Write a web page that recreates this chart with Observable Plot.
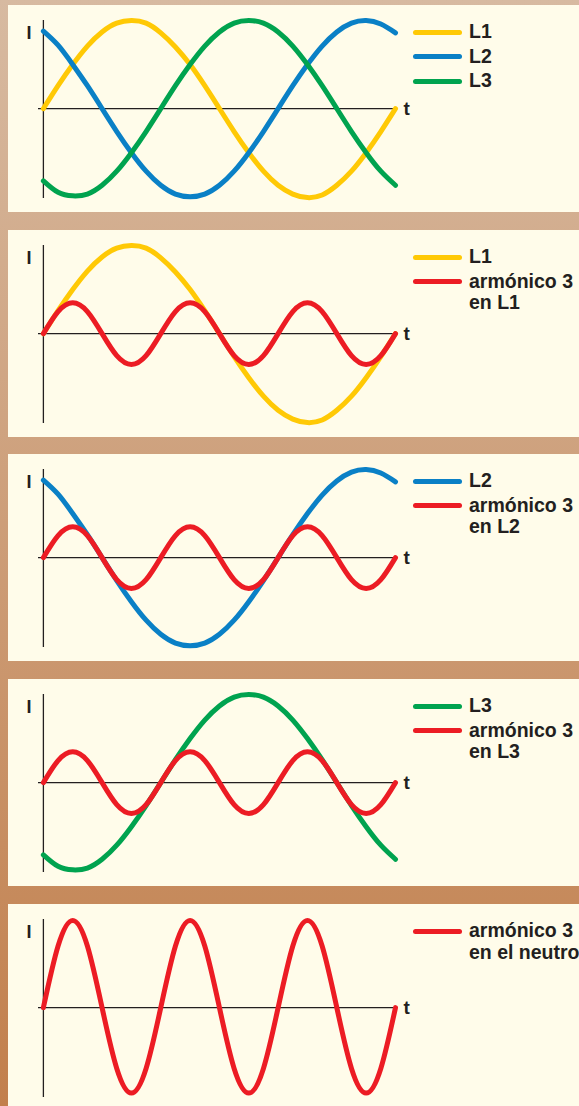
<!DOCTYPE html>
<html><head><meta charset="utf-8">
<script src="https://cdn.jsdelivr.net/npm/d3@7"></script>
<script src="https://cdn.jsdelivr.net/npm/@observablehq/plot@0.6"></script>
<style>
html,body{margin:0;padding:0;}
body{width:579px;height:1106px;overflow:hidden;position:relative;background:linear-gradient(#D7BAA1,#C27F4C);font-family:"Liberation Sans",Arial,sans-serif;}
.panel{position:absolute;left:8px;width:571px;height:207px;background:#FFFCEA;overflow:hidden;}
.panel svg{position:absolute;left:0;top:0;}
.leg{position:absolute;left:405px;display:flex;align-items:flex-start;font-weight:bold;font-size:19.5px;line-height:21.5px;color:#231F20;white-space:pre;}
.sw{width:49px;height:5px;border-radius:2.5px;margin-top:8.25px;margin-right:7px;flex:none;}
</style></head><body>
<script>
// time axis (degrees of the fundamental)
const T = [0,15,30,45,60,75,90,105,120,135,150,165,180,195,210,225,240,255,270,285,300,315,330,345,360];
// phase currents
const L1 = [0,0.26,0.5,0.71,0.87,0.97,1.0,0.97,0.86,0.7,0.5,0.26,0,-0.26,-0.5,-0.71,-0.87,-0.97,-1.01,-0.98,-0.87,-0.71,-0.5,-0.26,0];
const L2 = [0.88,0.72,0.5,0.26,0,-0.26,-0.5,-0.71,-0.87,-0.97,-1.0,-0.97,-0.87,-0.71,-0.5,-0.26,0,0.26,0.5,0.71,0.87,0.97,1.0,0.96,0.86];
const L3 = [-0.82,-0.95,-0.99,-0.97,-0.87,-0.71,-0.5,-0.26,0,0.26,0.5,0.71,0.87,0.97,1.0,0.97,0.87,0.71,0.5,0.26,0,-0.26,-0.5,-0.71,-0.87];
// 3rd harmonic in each phase
const H3 = [0,0.25,0.35,0.25,0,-0.25,-0.35,-0.25,0,0.25,0.35,0.25,0,-0.25,-0.35,-0.25,0,0.25,0.35,0.25,0,-0.25,-0.35,-0.25,0];
// 3rd harmonic in the neutral
const HN = [0,0.7,0.99,0.7,0,-0.69,-0.97,-0.69,0,0.7,0.99,0.7,0,-0.69,-0.97,-0.69,0,0.7,0.99,0.7,0,-0.69,-0.97,-0.69,0];

const COLORS = {L1:"#FFC905", L2:"#0A80C6", L3:"#00A34F", H:"#EC1C24"};
const INK = "#231F20";

const panelTops = [5, 230, 454, 679, 904];
const panelSeries = [
  [["L1",L1],["L2",L2],["L3",L3]],
  [["L1",L1],["H",H3]],
  [["L2",L2],["H",H3]],
  [["L3",L3],["H",H3]],
  [["H",HN]]
];
const panelLegends = [
  [["L1","L1"],["L2","L2"],["L3","L3"]],
  [["L1","L1"],["H","armónico 3\nen L1"]],
  [["L2","L2"],["H","armónico 3\nen L2"]],
  [["L3","L3"],["H","armónico 3\nen L3"]],
  [["H","armónico 3\nen el neutro"]]
];

panelSeries.forEach((series, i) => {
  const panel = document.createElement("div");
  panel.className = "panel";
  panel.style.top = panelTops[i] + "px";
  document.body.appendChild(panel);

  const chart = Plot.plot({
    width: 410, height: 207,
    marginLeft: 30, marginRight: 23, marginTop: 15, marginBottom: 14,
    x: {domain: [-5, 360], axis: null},
    y: {domain: [-1.02, 1.0], axis: null},
    style: {background: "transparent", overflow: "visible"},
    marks: [
      Plot.ruleY([0], {stroke: INK, strokeWidth: 1.3}),
      Plot.ruleX([0], {stroke: INK, strokeWidth: 1.3}),
      ...series.map(([key, vals]) => Plot.line(T, {x: T, y: vals, stroke: COLORS[key], strokeWidth: 5, curve: "natural", strokeLinecap: "round", strokeLinejoin: "round"})),
      Plot.text(["I"], {frameAnchor: "top-left", dx: -12, dy: 6, fontWeight: "bold", fontSize: 18, fill: INK, fontFamily: "Liberation Sans, Arial, sans-serif"}),
      Plot.text(["t"], {frameAnchor: "right", y: [0], dx: 8, textAnchor: "start", fontWeight: "bold", fontSize: 19, fill: INK, fontFamily: "Liberation Sans, Arial, sans-serif"})
    ]
  });
  panel.appendChild(chart);

  panelLegends[i].forEach(([key, label], j) => {
    const item = document.createElement("div");
    item.className = "leg";
    item.style.top = (27 + j * 24.5 - 10.75) + "px";
    const sw = document.createElement("div");
    sw.className = "sw";
    sw.style.background = COLORS[key];
    const tx = document.createElement("div");
    tx.textContent = label;
    item.appendChild(sw);
    item.appendChild(tx);
    panel.appendChild(item);
  });
});
</script>
</body></html>
